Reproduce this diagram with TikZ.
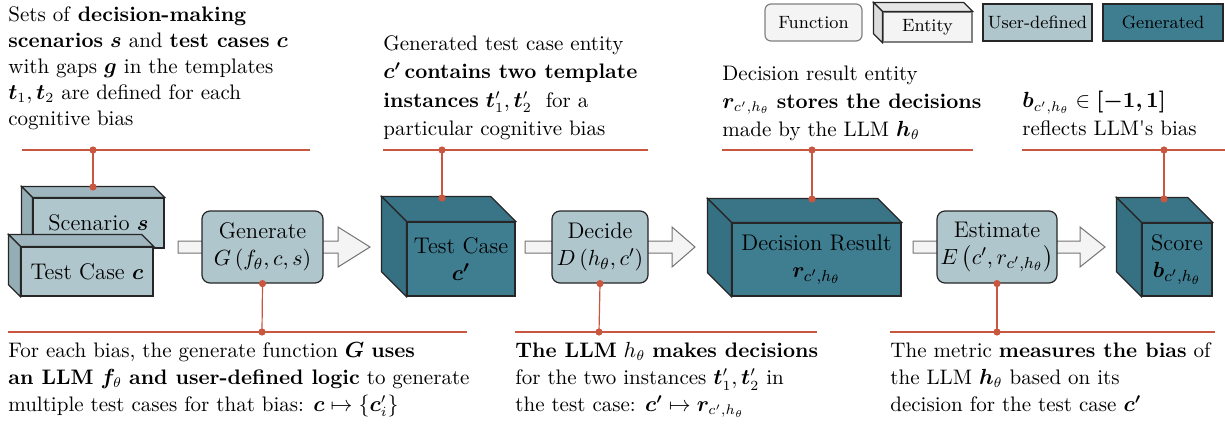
\documentclass[tikz,border=0pt]{standalone}
\usepackage{amsmath,bm}
\usepackage{fontspec}
\usetikzlibrary{calc}
\definecolor{ud}{HTML}{B0C6CD}
\definecolor{udtop}{HTML}{9FB6BE}
\definecolor{udside}{HTML}{95AEB5}
\definecolor{gen}{HTML}{3F7D91}
\definecolor{gentop}{HTML}{3A7487}
\definecolor{genside}{HTML}{357083}
\definecolor{fn}{HTML}{F4F4F4}
\definecolor{fntop}{HTML}{E6E6E6}
\definecolor{fnside}{HTML}{DCDCDC}
\definecolor{ann}{HTML}{C9573F}
\newcommand{\boxfont}{\fontsize{11.3}{13.5}\selectfont}
\newcommand{\annfont}{\fontsize{10.5}{13.5}\selectfont}
\newcommand{\legfont}{\fontsize{8.9}{10}\selectfont}
\newcommand{\cubesides}[4]{%
  \filldraw[boxline,fill=#3] (#1.north west) -- ++(-#2,#2) -- ($(#1.north east)+(-#2,#2)$) -- (#1.north east) -- cycle;
  \filldraw[boxline,fill=#4] (#1.north west) -- ++(-#2,#2) -- ($(#1.south west)+(-#2,#2)$) -- (#1.south west) -- cycle;}
\newcommand{\blockarrow}[3]{%
  \filldraw[arrowline] (#1,241) -- (#2,241) -- (#2,227) -- (#3,247) -- (#2,267) -- (#2,253) -- (#1,253) -- cycle;}
\tikzset{
  boxline/.style={draw=black!85, line width=0.6pt},
  udent/.style={boxline, fill=ud, inner sep=0pt, align=center, font=\boxfont},
  genent/.style={boxline, fill=gen, inner sep=0pt, align=center, font=\boxfont},
  fnbox/.style={boxline, fill=ud, rounded corners=4pt, inner sep=0pt, align=center, font=\boxfont},
  arrowline/.style={draw=black!55, fill=fn, line width=0.5pt},
  annot/.style={inner sep=0pt, align=left, font=\annfont, anchor=north west},
  annline/.style={draw=ann, line width=0.6pt},
  anndot/.style={fill=ann, circle, inner sep=0pt, minimum size=3.6pt},
  legbox/.style={inner sep=0pt, align=center, font=\legfont},
}
\begin{document}
\begin{tikzpicture}[x=0.5pt,y=-0.5pt]
\useasboundingbox (0,0) rectangle (1225,428);

% legend
\node[legbox, boxline, draw=black!50, fill=fn, rounded corners=3pt, minimum width=48.5pt, minimum height=18.5pt] (lfn) at (813.5,22.5) {Function};
\node[legbox, boxline, draw=black!50, fill=fn, minimum width=44.5pt, minimum height=15pt] (lent) at (927.5,27) {Entity};
\cubesides{lent}{4.5pt}{fntop}{fnside}
\node[legbox, boxline, fill=ud, minimum width=54.5pt, minimum height=18.5pt] (lud) at (1037.5,22.5) {User-defined};
\node[legbox, boxline, fill=gen, minimum width=60pt, minimum height=18.5pt] (lgen) at (1163,22.5) {Generated};

% block arrows
\blockarrow{178}{338}{370}
\blockarrow{525}{672}{695}
\blockarrow{913}{1080}{1105}

% entities
\node[udent, minimum width=65.5pt, minimum height=25pt] (scen) at (98.5,223) {Scenario $\bm{s}$};
\cubesides{scen}{5.5pt}{udtop}{udside}
\node[udent, minimum width=66pt, minimum height=24.5pt] (tc) at (87,271.5) {Test Case $\bm{c}$};
\cubesides{tc}{6pt}{udtop}{udside}
\node[genent, minimum width=54pt, minimum height=37pt] (tc2) at (461,259) {Test Case\\ $\bm{c'}$};
\cubesides{tc2}{12.5pt}{gentop}{genside}
\node[genent, minimum width=84.5pt, minimum height=36.5pt] (dr) at (816.5,259.5) {Decision Result\\ $\bm{r}_{c',h_\theta}$};
\cubesides{dr}{12pt}{gentop}{genside}
\node[genent, minimum width=35pt, minimum height=36.5pt] (sc) at (1177,259.5) {Score\\ $\bm{b}_{c',h_\theta}$};
\cubesides{sc}{12.5pt}{gentop}{genside}

% functions
\node[fnbox, minimum width=60.5pt, minimum height=36pt] (gen) at (262.5,247) {Generate\\ $G\left(f_\theta, c, s\right)$};
\node[fnbox, minimum width=48pt, minimum height=36pt] (dec) at (600,247) {Decide\\ $D\left(h_\theta, c'\right)$};
\node[fnbox, minimum width=60pt, minimum height=36pt] (est) at (997,247) {Estimate\\ $E\left(c', r_{c',h_\theta}\right)$};

% annotation lines
\draw[annline] (22,150) -- (310,150);
\draw[annline] (383,150) -- (648,150);
\draw[annline] (722,150) -- (973,150);
\draw[annline] (1022,150) -- (1225,150);
\draw[annline] (8,332) -- (467,332);
\draw[annline] (515,332) -- (817,332);
\draw[annline] (890,332) -- (1215,332);

\coordinate (a1) at (93,150);   \coordinate (b1) at (93,187);
\coordinate (a2) at (442,150);  \coordinate (b2) at (442,198);
\coordinate (a3) at (812,150);  \coordinate (b3) at (812,199);
\coordinate (a4) at (1164,150); \coordinate (b4) at (1164,199);
\coordinate (a5) at (262,332);  \coordinate (b5) at (gen.south);
\coordinate (a6) at (599,332);  \coordinate (b6) at (dec.south);
\coordinate (a7) at (997,332);  \coordinate (b7) at (est.south);
\foreach \i in {1,...,7} {
  \draw[annline] (a\i) -- (b\i);
  \node[anndot] at (a\i) {};
  \node[anndot] at (b\i) {};
}

% annotation texts
\node[annot, font=\fontsize{10.5}{13}\selectfont] (t1) at (8,6) {Sets of \textbf{decision-making}\\ \textbf{scenarios} $\bm{s}$ and \textbf{test cases} $\bm{c}$\\ with gaps $\bm{g}$ in the templates\\ $\bm{t}_1, \bm{t}_2$ are defined for each\\ cognitive bias};
\node[annot, font=\fontsize{10.5}{14.2}\selectfont] (t2) at (383,35) {Generated test case entity\\ $\bm{c'}$\,\textbf{contains two template}\\ \textbf{instances} $\bm{t}'_1, \bm{t}'_2$\ \ for a\\ particular cognitive bias};
\node[annot, font=\fontsize{10.5}{13.8}\selectfont] (t3) at (722,66) {Decision result entity\\ $\bm{r}_{c',h_\theta}$ \textbf{stores the decisions}\\ made by the LLM $\bm{h}_\theta$};
\node[annot, font=\fontsize{10.5}{14}\selectfont] (t4) at (1022,91) {$\bm{b}_{c',h_\theta} \in \bm{[-1,1]}$\\ reflects LLM\textquotesingle s bias};
\node[annot] (t5) at (8,342) {For each bias, the generate function $\bm{G}$ \textbf{uses}\\ \textbf{an LLM} $\bm{f}_\theta$ \textbf{and user-defined logic} to generate\\ multiple test cases for that bias: $\bm{c} \mapsto \{\bm{c}'_i\}$};
\node[annot] (t6) at (515,342) {\textbf{The LLM} $h_\theta$\ \textbf{makes decisions}\\ for the two instances $\bm{t}'_1, \bm{t}'_2$ in\\ the test case: $\bm{c'} \mapsto \bm{r}_{c',h_\theta}$};
\node[annot] (t7) at (890,342) {The metric \textbf{measures the bias} of\\ the LLM $\bm{h}_\theta$ based on its\\ decision for the test case $\bm{c'}$};
\end{tikzpicture}
\end{document}
